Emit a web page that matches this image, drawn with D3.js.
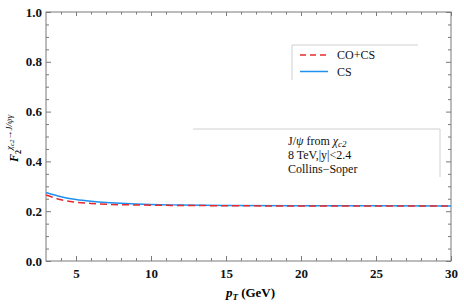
<!DOCTYPE html>
<html>
<head>
<meta charset="utf-8">
<script src="https://cdn.jsdelivr.net/npm/d3@7"></script>
<style>
  body { margin: 0; background: #fff; }
  svg { display: block; font-family: "Liberation Serif", "Times New Roman", serif; }
</style>
</head>
<body>
<svg id="chart" width="464" height="306"></svg>
<script>
// pT points (GeV) and the two polarisation curves
const ptValues = [3, 4, 5, 6, 7, 8, 9, 10, 12, 15, 20, 25, 30];
const csValues = [0.275, 0.258, 0.247, 0.240, 0.235, 0.232, 0.229, 0.227, 0.225, 0.223, 0.222, 0.222, 0.221];
const cocsValues = [0.265, 0.246, 0.236, 0.231, 0.228, 0.226, 0.225, 0.224, 0.223, 0.222, 0.221, 0.221, 0.221];

const xTicks = [5, 10, 15, 20, 25, 30];
const yTicks = [0.0, 0.2, 0.4, 0.6, 0.8, 1.0];
const legendLabels = ["CO+CS", "CS"];
const noteLines = ["8 TeV,|y|<2.4", "Collins\u2212Soper"];

const svg = d3.select("#chart");
const mLeft = 46, mRight = 451, mTop = 12, mBottom = 261;

const x = d3.scaleLinear().domain([3, 30]).range([mLeft, mRight]);
const y = d3.scaleLinear().domain([0, 1]).range([mBottom, mTop]);

const frameColor = "#7a7a7a";

// frame
svg.append("rect")
  .attr("x", mLeft).attr("y", mTop)
  .attr("width", mRight - mLeft).attr("height", mBottom - mTop)
  .attr("fill", "none").attr("stroke", frameColor).attr("stroke-width", 1);

// ticks, drawn inward on all four sides
const xMinor = d3.range(4, 30, 1).filter(v => !xTicks.includes(v));
const yMinor = d3.range(1, 20).map(i => i * 0.05).filter((v, i) => (i + 1) % 4 !== 0);

const bottomAxis = d3.axisBottom(x).tickValues(xTicks).tickFormat(d3.format("d")).tickSize(-5).tickPadding(8);
svg.append("g").attr("transform", `translate(0,${mBottom})`).call(bottomAxis);
svg.append("g").attr("transform", `translate(0,${mBottom})`)
  .call(d3.axisBottom(x).tickValues(xMinor).tickSize(-3).tickFormat(""));
svg.append("g").attr("transform", `translate(0,${mTop})`)
  .call(d3.axisTop(x).tickValues(xTicks).tickSize(-4).tickFormat(""));
svg.append("g").attr("transform", `translate(0,${mTop})`)
  .call(d3.axisTop(x).tickValues(xMinor).tickSize(-2.5).tickFormat(""));

const leftAxis = d3.axisLeft(y).tickValues(yTicks).tickFormat(d3.format(".1f")).tickSize(-5).tickPadding(4);
svg.append("g").attr("transform", `translate(${mLeft},0)`).call(leftAxis);
svg.append("g").attr("transform", `translate(${mLeft},0)`)
  .call(d3.axisLeft(y).tickValues(yMinor).tickSize(-3).tickFormat(""));
svg.append("g").attr("transform", `translate(${mRight},0)`)
  .call(d3.axisRight(y).tickValues(yTicks).tickSize(-5).tickFormat(""));
svg.append("g").attr("transform", `translate(${mRight},0)`)
  .call(d3.axisRight(y).tickValues(yMinor).tickSize(-3).tickFormat(""));

svg.selectAll(".domain").remove();
svg.selectAll(".tick line").attr("stroke", frameColor);
svg.selectAll(".tick text")
  .attr("fill", "#111").attr("font-size", 13).attr("font-weight", "bold")
  .attr("font-family", "'Liberation Serif', serif");

// curves
const line = d3.line().x(d => x(d[0])).y(d => y(d[1])).curve(d3.curveMonotoneX);
const csData = d3.zip(ptValues, csValues);
const cocsData = d3.zip(ptValues, cocsValues);

svg.append("path").datum(csData).attr("d", line)
  .attr("fill", "none").attr("stroke", "#1e90f0").attr("stroke-width", 1.5);
svg.append("path").datum(cocsData).attr("d", line)
  .attr("fill", "none").attr("stroke", "#e82a2a").attr("stroke-width", 1.5)
  .attr("stroke-dasharray", "7,4");

// axis titles
svg.append("text")
  .attr("x", (mLeft + mRight) / 2 + 2).attr("y", 297)
  .attr("text-anchor", "middle").attr("font-size", 13).attr("font-weight", "bold")
  .html('<tspan font-style="italic">p</tspan><tspan font-style="italic" font-size="9" dy="3">T</tspan><tspan dy="-3"> (GeV)</tspan>');

svg.append("text")
  .attr("transform", "translate(18,162) rotate(-90)")
  .attr("font-size", 12).attr("font-weight", "bold")
  .html('<tspan font-style="italic">F</tspan><tspan font-size="8" dy="3">2</tspan>' +
        '<tspan font-size="9" font-style="italic" font-weight="normal" dy="-9">\u03c7</tspan>' +
        '<tspan font-size="7" font-style="italic" font-weight="normal" dy="2">c2</tspan>' +
        '<tspan font-size="9" font-style="italic" font-weight="normal" dy="-2">\u2192J/\u03c8\u03b3</tspan>');

// legend
const legendColor = "#d0d0d0";
svg.append("line").attr("x1", 292).attr("x2", 418).attr("y1", 45).attr("y2", 45).attr("stroke", legendColor);
svg.append("line").attr("x1", 292).attr("x2", 292).attr("y1", 45).attr("y2", 80).attr("stroke", legendColor);

const legendStyles = [
  { color: "#e82a2a", dash: "6,4" },
  { color: "#1e90f0", dash: null }
];
legendLabels.forEach((label, i) => {
  const ly = 55 + i * 16.5;
  svg.append("line").attr("x1", 300).attr("x2", 328).attr("y1", ly).attr("y2", ly)
    .attr("stroke", legendStyles[i].color).attr("stroke-width", 1.5)
    .attr("stroke-dasharray", legendStyles[i].dash);
  svg.append("text").attr("x", 337).attr("y", ly + 4)
    .attr("font-size", 12).attr("fill", "#111").text(label);
});

// note box
svg.append("line").attr("x1", 193).attr("x2", 440).attr("y1", 129).attr("y2", 129).attr("stroke", legendColor);
svg.append("line").attr("x1", 440).attr("x2", 440).attr("y1", 129).attr("y2", 177).attr("stroke", legendColor);

svg.append("text").attr("x", 288).attr("y", 145).attr("font-size", 12).attr("fill", "#111")
  .html('J/<tspan font-style="italic">\u03c8</tspan> from <tspan font-style="italic">\u03c7</tspan><tspan font-size="9" font-style="italic" dy="2">c2</tspan>');
noteLines.forEach((t, i) => {
  svg.append("text").attr("x", 288).attr("y", 159 + i * 14)
    .attr("font-size", 12).attr("fill", "#111").text(t);
});
</script>
</body>
</html>
